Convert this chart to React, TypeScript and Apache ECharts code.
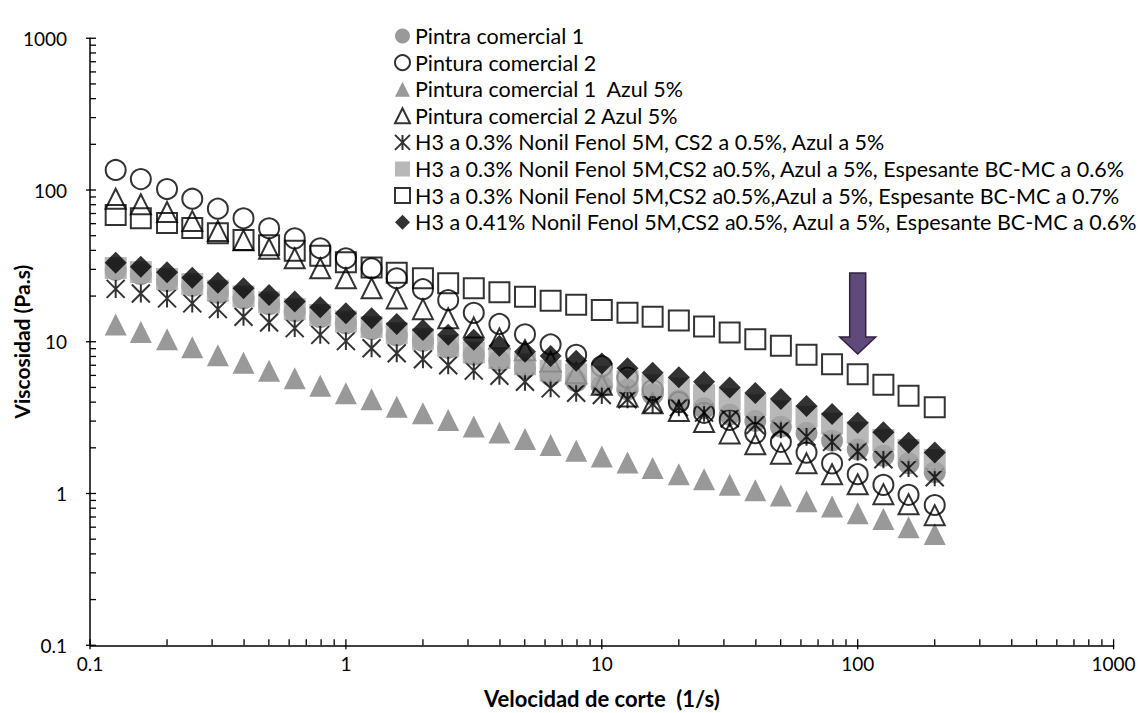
import { useEffect, useRef } from "react";
import * as echarts from "echarts";

// Shear rate (1/s)
const shearRate = [0.126, 0.158, 0.2, 0.251, 0.316, 0.398, 0.501, 0.631, 0.794, 1, 1.26, 1.58, 2, 2.51, 3.16, 3.98, 5.01, 6.31, 7.94, 10, 12.6, 15.8, 20, 25.1, 31.6, 39.8, 50.1, 63.1, 79.4, 100, 126, 158, 200];

// Viscosity (Pa.s)
const pintra1 = [29.7, 27.9, 25.1, 23.3, 21.0, 19.3, 17.6, 15.9, 14.5, 13.2, 12.1, 11.0, 10.1, 9.1, 8.2, 7.5, 6.7, 6.0, 5.5, 5.1, 4.85, 4.5, 4.1, 3.65, 3.3, 3.0, 2.75, 2.5, 2.23, 1.95, 1.77, 1.58, 1.38];
const pintura2 = [135.5, 118, 101.5, 87.6, 75.3, 65.1, 55.9, 48.0, 41.3, 35.5, 30.5, 26.2, 22.2, 18.8, 15.5, 13.1, 11.2, 9.6, 8.2, 6.9, 5.8, 4.8, 4.0, 3.4, 3.05, 2.5, 2.19, 1.86, 1.58, 1.34, 1.14, 0.98, 0.84];
const pintura1Azul = [13.0, 11.6, 10.4, 9.2, 8.14, 7.28, 6.45, 5.74, 5.13, 4.57, 4.18, 3.73, 3.38, 3.05, 2.76, 2.52, 2.29, 2.09, 1.91, 1.75, 1.6, 1.47, 1.34, 1.24, 1.14, 1.05, 0.97, 0.89, 0.82, 0.74, 0.68, 0.6, 0.54];
const pintura2Azul = [87.6, 80.5, 71.6, 62.5, 53.7, 46.6, 41.0, 35.5, 30.5, 26.2, 22.5, 19.3, 16.4, 14.3, 12.4, 10.5, 8.8, 7.4, 6.2, 5.2, 4.35, 3.93, 3.5, 2.96, 2.49, 2.11, 1.83, 1.58, 1.34, 1.15, 0.99, 0.85, 0.72];
const h3Azul = [22.3, 20.8, 19.3, 17.9, 16.4, 14.6, 13.4, 12.3, 11.1, 10.1, 9.05, 8.4, 7.66, 7.0, 6.45, 5.97, 5.45, 4.93, 4.61, 4.46, 4.18, 3.89, 3.7, 3.41, 3.13, 2.83, 2.65, 2.37, 2.19, 1.89, 1.68, 1.47, 1.28];
const h3Esp06 = [30.6, 28.8, 25.9, 24.0, 21.7, 19.9, 18.2, 16.4, 15.0, 13.6, 12.5, 11.4, 10.4, 9.4, 8.5, 7.8, 7.1, 6.45, 6.1, 5.88, 5.5, 5.17, 4.92, 4.44, 4.18, 3.82, 3.48, 3.2, 2.89, 2.52, 2.25, 1.93, 1.66];
const h3Esp07 = [68.4, 65.1, 60.6, 56.2, 51.8, 46.8, 43.2, 39.8, 36.9, 33.4, 30.8, 28.5, 26.2, 24.3, 22.5, 21.2, 19.8, 18.6, 17.5, 16.2, 15.5, 14.6, 13.8, 12.6, 11.5, 10.4, 9.4, 8.2, 7.1, 6.1, 5.2, 4.4, 3.7];
const h341Esp06 = [33.2, 31.2, 28.7, 26.4, 24.5, 22.5, 20.3, 18.4, 16.9, 15.4, 14.3, 13.1, 11.95, 11.1, 10.3, 9.4, 8.6, 8.05, 7.5, 7.2, 6.7, 6.25, 5.83, 5.45, 5.0, 4.6, 4.2, 3.77, 3.34, 2.93, 2.53, 2.16, 1.86];

const seriesNames = [
  "Pintra comercial 1",
  "Pintura comercial 2",
  "Pintura comercial 1  Azul 5%",
  "Pintura comercial 2 Azul 5%",
  "H3 a 0.3% Nonil Fenol 5M, CS2 a 0.5%, Azul a 5%",
  "H3 a 0.3% Nonil Fenol 5M,CS2 a0.5%, Azul a 5%, Espesante BC-MC a 0.6%",
  "H3 a 0.3% Nonil Fenol 5M,CS2 a0.5%,Azul a 5%, Espesante BC-MC a 0.7%",
  "H3 a 0.41% Nonil Fenol 5M,CS2 a0.5%, Azul a 5%, Espesante BC-MC a 0.6%",
];

// Axis ranges and tick values
const axisMin = 0.1;
const axisMax = 1000;
const decades = [0.1, 1, 10, 100];
const minorMultipliers = [2, 3, 4, 5, 6, 7, 8, 9];

// Arrow annotation anchor (shear rate, viscosity)
const arrowAt = [100, 8.3];

const FONT = "Lato, 'Liberation Sans', sans-serif";
const ASTERISK = "path://M0,0 L10,10 M10,0 L0,10 M5,0 L5,10";

const pair = (ys: number[]) => ys.map((y, i) => [shearRate[i], y]);
const fmt = (v: number) => String(+Number(v).toPrecision(4));

export default function App() {
  const ref = useRef<HTMLDivElement>(null);

  useEffect(() => {
    if (!ref.current) return;
    const chart = echarts.init(ref.current, null, { renderer: "svg" });

    const tickVals: number[][] = [];
    decades.forEach((d) => {
      tickVals.push([d, 1]);
      minorMultipliers.forEach((m) => tickVals.push([d * m, 0]));
    });
    tickVals.push([axisMax, 1]);

    const yTickData = tickVals.map((t) => [axisMin, t[0], t[1]]);
    const xTickData = tickVals.map((t) => [t[0], axisMin, t[1]]);

    const openStyle = { color: "rgba(0,0,0,0)", borderColor: "#000", borderWidth: 2 };

    const scatter = (name: string, ys: number[], symbol: string, size: number, itemStyle: any) => ({
      name,
      type: "scatter",
      data: pair(ys),
      symbol,
      symbolSize: size,
      itemStyle,
      emphasis: { disabled: true },
    });

    const option: any = {
      animation: false,
      backgroundColor: "#fff",
      textStyle: { fontFamily: FONT },
      grid: {
        left: 90,
        right: 26.4,
        top: 38.25,
        bottom: 67.75,
        containLabel: false,
        outerBoundsMode: "none",
      },
      legend: {
        data: seriesNames,
        orient: "vertical",
        left: 389,
        top: 20,
        itemWidth: 15,
        itemHeight: 15,
        itemGap: 4.6,
        selectedMode: false,
        textStyle: { fontSize: 21.5, lineHeight: 22, color: "#000", fontFamily: FONT },
      },
      xAxis: {
        type: "log",
        logBase: 10,
        min: axisMin,
        max: axisMax,
        name: "Velocidad de corte  (1/s)",
        nameLocation: "middle",
        nameGap: 42,
        nameMoveOverlap: false,
        nameTextStyle: { fontSize: 22, fontWeight: "bold", color: "#000", fontFamily: FONT },
        axisLine: { lineStyle: { color: "#000", width: 1.5 } },
        axisTick: { show: false },
        axisLabel: { fontSize: 19, color: "#000", margin: 9, fontFamily: FONT, formatter: fmt },
        splitLine: { show: false },
      },
      yAxis: {
        type: "log",
        logBase: 10,
        min: axisMin,
        max: axisMax,
        name: "Viscosidad (Pa.s)",
        nameLocation: "middle",
        nameRotate: 90,
        nameGap: 58,
        nameMoveOverlap: false,
        nameTextStyle: { fontSize: 21, fontWeight: "bold", color: "#000", fontFamily: FONT },
        axisLine: { lineStyle: { color: "#000", width: 1.5 } },
        axisTick: { show: false },
        axisLabel: { fontSize: 19, color: "#000", margin: 23, fontFamily: FONT, formatter: fmt },
        splitLine: { show: false },
      },
      series: [
        scatter(seriesNames[0], pintra1, "circle", 22, { color: "#7f7f7f" }),
        scatter(seriesNames[1], pintura2, "circle", 20, openStyle),
        scatter(seriesNames[2], pintura1Azul, "triangle", 22, { color: "#7f7f7f" }),
        scatter(seriesNames[3], pintura2Azul, "triangle", 20, openStyle),
        scatter(seriesNames[4], h3Azul, ASTERISK, 18, openStyle),
        scatter(seriesNames[5], h3Esp06, "rect", 22, { color: "#a6a6a6" }),
        scatter(seriesNames[6], h3Esp07, "rect", 20, openStyle),
        scatter(seriesNames[7], h341Esp06, "diamond", 22, { color: "#000" }),
        {
          name: "yTicks",
          type: "custom",
          silent: true,
          data: yTickData,
          encode: { x: 0, y: 1 },
          renderItem: (_p: any, api: any) => {
            const pt = api.coord([api.value(0), api.value(1)]);
            const major = api.value(2) === 1;
            return {
              type: "line",
              shape: { x1: pt[0] - (major ? 4 : 0), y1: pt[1], x2: pt[0] + 6, y2: pt[1] },
              style: { stroke: "#000", lineWidth: 1.3 },
            };
          },
        },
        {
          name: "xTicks",
          type: "custom",
          silent: true,
          data: xTickData,
          encode: { x: 0, y: 1 },
          renderItem: (_p: any, api: any) => {
            const pt = api.coord([api.value(0), api.value(1)]);
            const major = api.value(2) === 1;
            return {
              type: "line",
              shape: { x1: pt[0], y1: pt[1] + (major ? 4 : 0), x2: pt[0], y2: pt[1] - 6 },
              style: { stroke: "#000", lineWidth: 1.3 },
            };
          },
        },
      ],
    };

    chart.setOption(option);

    const tip = chart.convertToPixel({ gridIndex: 0 }, arrowAt) as number[];
    if (tip) {
      const [tx, ty] = tip;
      chart.setOption({
        graphic: [
          {
            type: "polygon",
            z: 100,
            shape: {
              points: [
                [tx - 8, ty - 81],
                [tx + 8, ty - 81],
                [tx + 8, ty - 17],
                [tx + 18, ty - 17],
                [tx, ty],
                [tx - 18, ty - 17],
                [tx - 8, ty - 17],
              ],
            },
            style: { fill: "#604a7b", stroke: "#2f2340", lineWidth: 1.5 },
          },
        ],
      });
    }

    return () => chart.dispose();
  }, []);

  return (
    <div
      ref={ref}
      style={{ position: "fixed", left: 0, top: 0, width: 1140, height: 713 }}
    />
  );
}
